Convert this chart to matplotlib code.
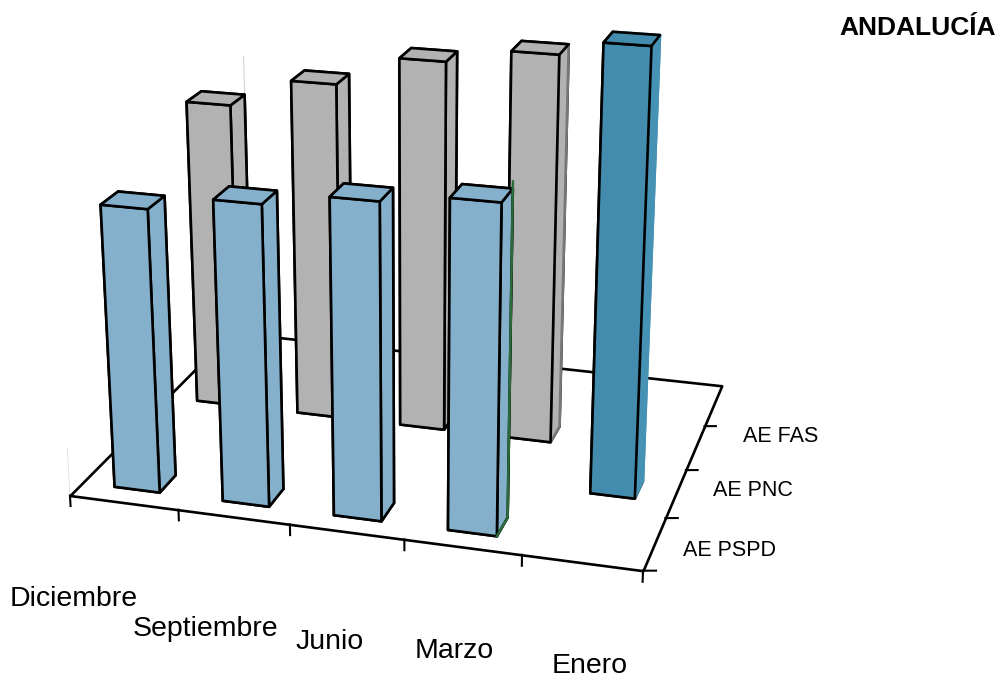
import matplotlib
matplotlib.use("Agg")
import matplotlib.pyplot as plt
from mpl_toolkits.mplot3d.art3d import Poly3DCollection

months = ["Diciembre", "Septiembre", "Junio", "Marzo", "Enero"]
rows = ["AE PSPD", "AE PNC", "AE FAS"]

# values, no axis in the picture so relative to the tallest
pspd = [64.6, 68, 70.9, 73]
pnc_enero = 100
fas = [73.3, 80.1, 87.1, 90.5]

BLUE = "#85b0cb"
TEAL = "#438cae"
TEAL_SIDE = "#4692b5"
GRAY = "#b2b2b2"
GREEN = "#2a6b3a"

BW = 0.42
BD = 0.37
X_OFF = 0.3
Y_OFF = [0.27, 1.3, 2.25]

fig = plt.figure(figsize=(10, 6.79), dpi=100)
ax = fig.add_axes([0.0027, -0.0277, 0.8, 1.178], projection="3d")
ax.set_proj_type("persp", focal_length=0.534)
ax.view_init(elev=20.4, azim=-73.8)
ax.set_box_aspect((1.303, 1.038, 0.762), zoom=0.961)
ax.set_xlim(0, 5)
ax.set_ylim(0, 4)
ax.set_zlim(0, 73.3)
ax.set_axis_off()
ax.computed_zorder = False

floor = Poly3DCollection([[(0, 0, 0), (5, 0, 0), (5, 4, 0), (0, 4, 0)]],
                         facecolor="white", edgecolor="black", linewidth=1.9, zorder=1)
ax.add_collection3d(floor)

for i in range(6):
    ax.plot([i, i], [0, 0], [0, -2.5], color="black", lw=1.5, zorder=2)
for j in range(4):
    ax.plot([5, 5.1], [j, j + 0.03], [0, 0], color="black", lw=1.5, zorder=2)

# faint leftovers in the original
ax.plot([0, 0], [0, 0], [0, 11], color="#dddddd", lw=0.6, zorder=0)
ax.plot([X_OFF + BW, X_OFF + BW], [Y_OFF[2] + BD, Y_OFF[2] + BD], [fas[0], fas[0] + 9],
        color="#cccccc", lw=0.7, zorder=2)


def bar(x, y, h, col, z, edges="black", w=BW):
    ax.bar3d(x, y, 0, w, BD, h, color=col, edgecolor=edges, linewidth=1.9,
             shade=False, zorder=z)


for i, h in enumerate(fas):
    edges = ["black"] * 6
    if i == 3:
        edges[5] = "#777777"
    bar(i + X_OFF, Y_OFF[2], h, GRAY, 3, edges)

teal_cols = [TEAL, TEAL, TEAL, TEAL, TEAL, TEAL_SIDE]
teal_edges = ["black", "black", "black", TEAL_SIDE, "black", TEAL_SIDE]
bar(4 + X_OFF - 0.01, Y_OFF[1], pnc_enero, teal_cols, 4, teal_edges, w=0.39)

for i, h in enumerate(pspd):
    bar(i + X_OFF, Y_OFF[0], h, BLUE, 5)

# green back edge on the Marzo bar
gx = 3 + X_OFF + BW
ax.plot([gx, gx, gx], [Y_OFF[0], Y_OFF[0] + BD, Y_OFF[0] + BD], [0, 0, pspd[3] + 1.5],
        color=GREEN, lw=1.8, zorder=6)

# tick labels
lab_x = [10, 133, 296, 415, 552]
lab_y = [599, 629, 642, 651, 666]
for m, x, y in zip(months, lab_x, lab_y):
    fig.text(x / 1000, 1 - y / 679, m, fontsize=20.5, family="Liberation Sans", va="center")
row_x = [683, 713, 743]
row_y = [550, 491, 437]
for r, x, y in zip(rows, row_x, row_y):
    fig.text(x / 1000, 1 - y / 679, r, fontsize=15.5, family="Liberation Sans", va="center")
fig.text(996 / 1000, 1 - 28 / 679, "ANDALUCÍA", fontsize=19, fontweight="bold",
         family="Liberation Sans", ha="right", va="center")

fig.savefig("out.png", dpi=100)
